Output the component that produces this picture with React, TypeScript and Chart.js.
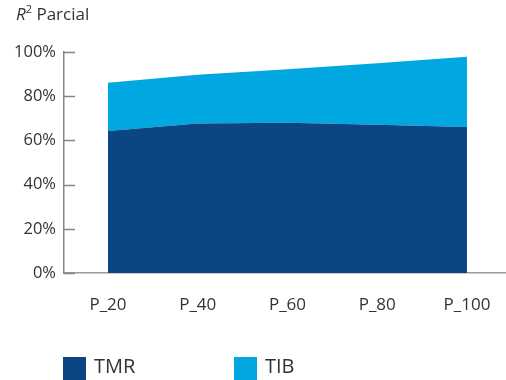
import React, { useEffect, useRef } from "react";
import { Chart, registerables } from "chart.js";

Chart.register(...registerables);

const categories = ["P_20", "P_40", "P_60", "P_80", "P_100"];
const tmrValues = [64.3, 67.7, 68.0, 67.1, 66.1];
const tibValues = [21.8, 22.0, 24.2, 27.8, 31.8];
const yTicks = [0, 20, 40, 60, 80, 100];
const seriesLabels = ["TMR", "TIB"];
const seriesColors = ["#0B4584", "#00A7E0"];

const FONT = "'Open Sans', sans-serif";

export default function App() {
  const ref = useRef<HTMLCanvasElement | null>(null);

  useEffect(() => {
    if (!ref.current) return;
    const tickPlugin = {
      id: "innerTicks",
      afterDraw(chart: any) {
        const ctx = chart.ctx;
        const y = chart.scales.y;
        const left = chart.chartArea.left;
        ctx.save();
        ctx.strokeStyle = "#858585";
        ctx.lineWidth = 1.5;
        yTicks.forEach((v) => {
          const py = Math.round(y.getPixelForValue(v)) + 0.5;
          ctx.beginPath();
          ctx.moveTo(left, py);
          ctx.lineTo(left + 11, py);
          ctx.stroke();
        });
        // legend
        const legendX = [63, 234];
        ctx.font = "20px " + FONT;
        ctx.textBaseline = "middle";
        ctx.textAlign = "left";
        chart.data.datasets.forEach((ds: any, i: number) => {
          ctx.fillStyle = ds.backgroundColor;
          ctx.fillRect(legendX[i], 357, 23, 23);
          ctx.fillStyle = "#333";
          ctx.fillText(ds.label, legendX[i] + 31, 367);
        });
        ctx.restore();
      },
    };

    const chart = new Chart(ref.current, {
      type: "line",
      data: {
        datasets: [
          {
            label: seriesLabels[0],
            data: tmrValues.map((v, i) => ({ x: i, y: v })),
            backgroundColor: seriesColors[0],
            borderColor: seriesColors[0],
            borderWidth: 0,
            pointRadius: 0,
            fill: "origin",
            tension: 0,
          },
          {
            label: seriesLabels[1],
            data: tibValues.map((v, i) => ({ x: i, y: v })),
            backgroundColor: seriesColors[1],
            borderColor: seriesColors[1],
            borderWidth: 0,
            pointRadius: 0,
            fill: "-1",
            tension: 0,
          },
        ],
      },
      options: {
        responsive: false,
        animation: false,
        layout: { padding: { top: 52, left: 0, right: 0, bottom: 0 } },
        plugins: {
          legend: { display: false },
          tooltip: { enabled: false },
        },
        scales: {
          x: {
            type: "linear",
            min: -0.49,
            max: 4.435,
            afterFit(scale: any) {
              scale.height = 107;
              scale.paddingLeft = 0;
              scale.paddingRight = 0;
            },
            afterBuildTicks(scale: any) {
              scale.ticks = categories.map((_, i) => ({ value: i }));
            },
            grid: { display: false, drawTicks: false },
            border: { display: true, color: "#9a9a9a", width: 1.5 },
            ticks: {
              padding: 22,
              color: "#333",
              font: { family: FONT, size: 17 },
              callback: (v: any) => categories[v] ?? "",
              maxRotation: 0,
              autoSkip: false,
            },
          },
          y: {
            stacked: true,
            min: 0,
            max: 100,
            afterFit(scale: any) {
              scale.width = 64;
            },
            afterBuildTicks(scale: any) {
              scale.ticks = yTicks.map((v) => ({ value: v }));
            },
            grid: { display: false, drawTicks: false },
            border: { display: true, color: "#858585", width: 1.5 },
            ticks: {
              padding: 8,
              color: "#333",
              font: { family: FONT, size: 16.5 },
              callback: (v: any) => v + "%",
            },
          },
        },
      },
      plugins: [tickPlugin],
    } as any);
    return () => chart.destroy();
  }, []);

  return (
    <div style={{ position: "fixed", left: 0, top: 0, width: 506, height: 380, background: "#fff" }}>
      <div
        style={{
          position: "absolute",
          left: 16,
          top: 4,
          fontFamily: FONT,
          fontSize: 17,
          lineHeight: "20px",
          color: "#333",
          whiteSpace: "nowrap",
        }}
      >
        <span style={{ fontStyle: "italic" }}>R</span>
        <sup style={{ fontSize: 11, verticalAlign: "super", lineHeight: 0 }}>2</sup> Parcial
      </div>
      <canvas ref={ref} width={506} height={380} style={{ display: "block" }} />
    </div>
  );
}
